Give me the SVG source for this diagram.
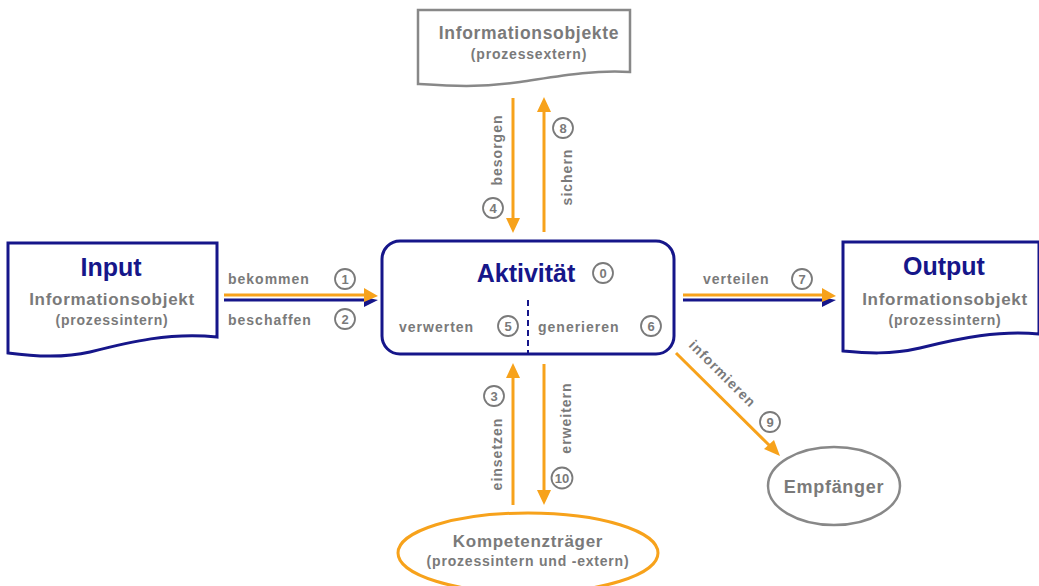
<svg xmlns="http://www.w3.org/2000/svg" width="1039" height="586" viewBox="0 0 1039 586">
<style>
.t{font-family:"Liberation Sans",Arial,sans-serif;font-weight:bold;fill:#7a7a7a}
.h{font-family:"Liberation Sans",Arial,sans-serif;font-weight:bold;fill:#16168a;font-size:25px}
.m{font-size:17px;letter-spacing:0.7px}
.s{font-size:14px;letter-spacing:0.8px}
.l{font-size:14px;letter-spacing:1px}
.n{font-size:13px;text-anchor:middle}
.c{fill:#fff;stroke:#7a7a7a;stroke-width:1.8}
.or{stroke:#f7a21b;stroke-width:3;fill:none}
.bl{stroke:#16168a;stroke-width:3;fill:none}
</style>
<rect width="1039" height="586" fill="#fff"/>

<g id="input">
<path d="M8,243 L217,243 L217,337 C170,332 130,342 90,352 C60,359 30,356 8,353 Z" fill="#fff" stroke="#16168a" stroke-width="3"/>
<text class="h" x="111" y="276" text-anchor="middle">Input</text>
<text class="t m" x="112" y="305" text-anchor="middle">Informationsobjekt</text>
<text class="t s" x="112" y="325" text-anchor="middle">(prozessintern)</text>
</g>

<g id="output">
<path d="M843,242 L1039,242 L1039,334 C1000,330 960,338 920,348 C890,355 865,353 843,351 Z" fill="#fff" stroke="#16168a" stroke-width="3"/>
<text class="h" x="944" y="275" text-anchor="middle">Output</text>
<text class="t m" x="945" y="305" text-anchor="middle">Informationsobjekt</text>
<text class="t s" x="945" y="325" text-anchor="middle">(prozessintern)</text>
</g>

<g id="infoobjekte">
<path d="M418,10 L630,10 L630,72 C590,70 560,76 520,82 C480,88 450,86 418,84 Z" fill="#fff" stroke="#888" stroke-width="2.5"/>
<text class="t m" x="529" y="39" text-anchor="middle" style="font-size:17.5px">Informationsobjekte</text>
<text class="t s" x="529" y="59" text-anchor="middle">(prozessextern)</text>
</g>

<g id="aktivitaet">
<rect x="382" y="241" width="292" height="113" rx="18" fill="#fff" stroke="#16168a" stroke-width="3"/>
<text class="h" x="526" y="282" text-anchor="middle">Aktivität</text>
<circle class="c" cx="603" cy="273" r="10"/><text class="t n" x="603" y="277.5">0</text>
<line x1="528" y1="300" x2="528" y2="354" stroke="#16168a" stroke-width="2" stroke-dasharray="6,4"/>
<text class="t l" x="399" y="332">verwerten</text>
<circle class="c" cx="508" cy="326" r="10"/><text class="t n" x="508" y="330.5">5</text>
<text class="t l" x="538" y="332">generieren</text>
<circle class="c" cx="651" cy="326" r="10"/><text class="t n" x="651" y="330.5">6</text>
</g>

<g id="kompetenztraeger">
<ellipse cx="528" cy="553" rx="130" ry="40" fill="#fff" stroke="#f7a21b" stroke-width="3"/>
<text class="t m" x="528" y="547" text-anchor="middle">Kompetenzträger</text>
<text class="t s" x="528" y="566" text-anchor="middle">(prozessintern und -extern)</text>
</g>

<g id="empfaenger">
<ellipse cx="834" cy="486" rx="66" ry="39" fill="#fff" stroke="#888" stroke-width="2.5"/>
<text class="t m" x="834" y="493" text-anchor="middle" style="font-size:18px">Empfänger</text>
</g>

<g id="connectors">
<line class="bl" x1="224" y1="300" x2="370" y2="300"/>
<path d="M364,297 L378,300 L364,307 Z" fill="#16168a"/>
<line class="or" x1="224" y1="295" x2="368" y2="295"/>
<path d="M364,288 L378,296 L364,302 Z" fill="#f7a21b"/>
<text class="t l" x="228" y="284">bekommen</text>
<circle class="c" cx="345" cy="279" r="10"/><text class="t n" x="345" y="283.5">1</text>
<text class="t l" x="228" y="325">beschaffen</text>
<circle class="c" cx="345" cy="319" r="10"/><text class="t n" x="345" y="323.5">2</text>

<line class="bl" x1="683" y1="300" x2="828" y2="300"/>
<path d="M822,297 L836,300 L822,307 Z" fill="#16168a"/>
<line class="or" x1="683" y1="295" x2="826" y2="295"/>
<path d="M822,288 L836,296 L822,302 Z" fill="#f7a21b"/>
<text class="t l" x="703" y="284">verteilen</text>
<circle class="c" cx="802" cy="279" r="10"/><text class="t n" x="802" y="283.5">7</text>

<line class="or" x1="513" y1="98" x2="513" y2="220"/>
<path d="M506,218 L513,233 L520,218 Z" fill="#f7a21b"/>
<line class="or" x1="544" y1="232" x2="544" y2="110"/>
<path d="M537,112 L544,97 L551,112 Z" fill="#f7a21b"/>
<text class="t l" transform="translate(502,150) rotate(-90)" text-anchor="middle">besorgen</text>
<circle class="c" cx="493" cy="208" r="10"/><text class="t n" x="493" y="212.5">4</text>
<text class="t l" transform="translate(572,177) rotate(-90)" text-anchor="middle">sichern</text>
<circle class="c" cx="563" cy="128" r="10"/><text class="t n" x="563" y="132.5">8</text>

<line class="or" x1="513" y1="505" x2="513" y2="376"/>
<path d="M506,378 L513,363 L520,378 Z" fill="#f7a21b"/>
<line class="or" x1="544" y1="364" x2="544" y2="492"/>
<path d="M537,490 L544,505 L551,490 Z" fill="#f7a21b"/>
<text class="t l" transform="translate(502,454) rotate(-90)" text-anchor="middle">einsetzen</text>
<circle class="c" cx="494" cy="396" r="10"/><text class="t n" x="494" y="400.5">3</text>
<text class="t l" transform="translate(571,418) rotate(-90)" text-anchor="middle">erweitern</text>
<circle class="c" cx="562" cy="478" r="10.5"/><text class="t n" x="562" y="482.5">10</text>

<line class="or" x1="676" y1="353" x2="770" y2="446"/>
<path d="M764,449 L780,456 L774,440 Z" fill="#f7a21b"/>
<text class="t l" transform="translate(688,346) rotate(45)">informieren</text>
<circle class="c" cx="770" cy="422" r="10"/><text class="t n" x="770" y="426.5">9</text>
</g>
</svg>
